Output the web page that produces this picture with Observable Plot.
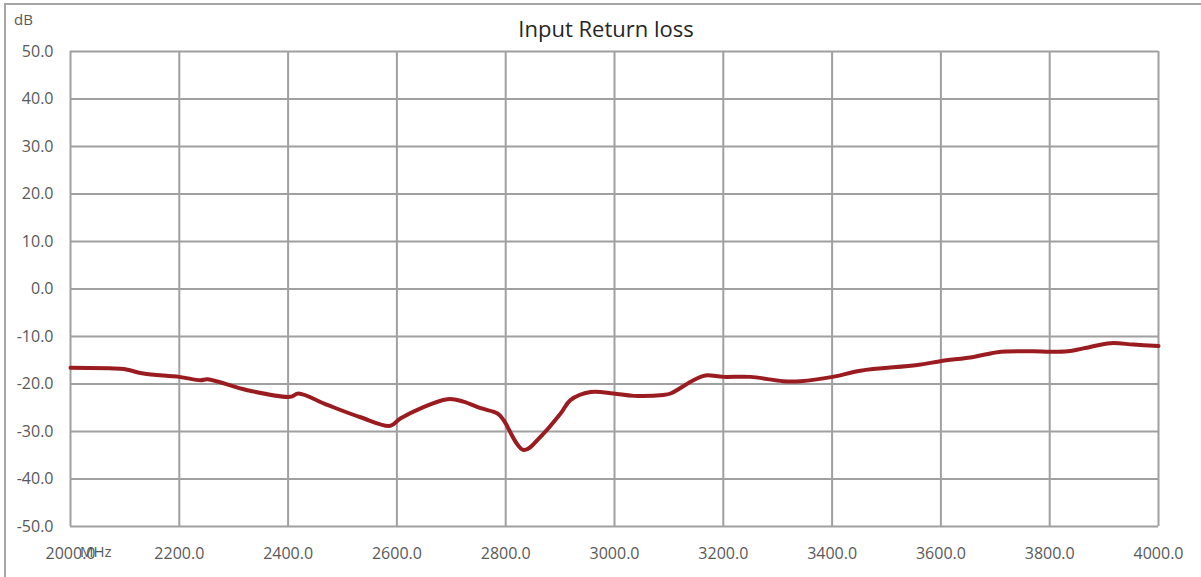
<!DOCTYPE html>
<html>
<head>
<meta charset="utf-8">
<script src="https://cdn.jsdelivr.net/npm/d3@7"></script>
<script src="https://cdn.jsdelivr.net/npm/@observablehq/plot@0.6"></script>
<style>
  html, body { margin: 0; padding: 0; background: #fff; }
  #wrap { position: relative; width: 1201px; height: 577px; overflow: hidden; font-family: "Open Sans", sans-serif; }
  #wrap svg { position: absolute; left: 0; top: 0; }
  .lbl { position: absolute; color: #595959; white-space: nowrap; }
  #title { left: 0; width: 1212px; top: 13px; text-align: center; font-size: 22px; color: #262626; }
  #unitY { left: 14px; top: 9px; font-size: 15px; }
  #unitX { left: 80px; top: 541px; font-size: 15px; }
  #border { position: absolute; left: 4px; top: 3px; width: 1220px; height: 600px; border-left: 2px solid #a6a6a6; border-top: 2px solid #a6a6a6; box-sizing: border-box; pointer-events: none; }
</style>
</head>
<body>
<div id="wrap">
  <div id="chart"></div>
  <div id="border"></div>
  <div class="lbl" id="title">Input Return loss</div>
  <div class="lbl" id="unitY">dB</div>
  <div class="lbl" id="unitX">MHz</div>
</div>
<script>
const freqMHz = [2000, 2092, 2105, 2134, 2200, 2239, 2252, 2325, 2404, 2419, 2472, 2533, 2588, 2607, 2693, 2722, 2754, 2785, 2796, 2833, 2864, 2901, 2919, 2956, 2998, 3035, 3090, 3103, 3145, 3167, 3200, 3250, 3310, 3342, 3401, 3452, 3557, 3599, 3660, 3704, 3770, 3799, 3833, 3862, 3912, 3954, 4000];
const returnLossDb = [-16.6, -16.8, -17.0, -17.8, -18.5, -19.2, -19.0, -21.3, -22.7, -22.0, -24.4, -27.0, -28.8, -27.2, -23.2, -23.7, -25.1, -26.2, -27.6, -33.9, -31.1, -26.2, -23.4, -21.7, -22.0, -22.5, -22.3, -22.0, -19.2, -18.2, -18.5, -18.5, -19.4, -19.4, -18.5, -17.2, -16.0, -15.2, -14.3, -13.3, -13.1, -13.2, -13.1, -12.5, -11.4, -11.7, -12.0];
const xTicks = [2000, 2200, 2400, 2600, 2800, 3000, 3200, 3400, 3600, 3800, 4000];
const yTicks = [-50, -40, -30, -20, -10, 0, 10, 20, 30, 40, 50];

const data = freqMHz.map((f, i) => ({f, db: returnLossDb[i]}));
const gridColor = "#a0a0a0";

const chart = Plot.plot({
  width: 1201,
  height: 577,
  marginLeft: 70,
  marginRight: 43,
  marginTop: 51,
  marginBottom: 51,
  style: {fontFamily: "'Open Sans', sans-serif", fontSize: "16px", color: "#595959", background: "#fff"},
  x: {domain: [2000, 4000], ticks: xTicks, tickFormat: d => d.toFixed(1), label: null},
  y: {domain: [-50, 50], ticks: yTicks, tickFormat: d => d.toFixed(1), label: null},
  marks: [
    Plot.gridX(xTicks, {stroke: gridColor, strokeOpacity: 1, strokeWidth: 2}),
    Plot.gridY(yTicks, {stroke: gridColor, strokeOpacity: 1, strokeWidth: 2}),
    Plot.axisX({ticks: xTicks, tickFormat: d => d.toFixed(1), tickSize: 0, tickPadding: 21, fontSize: 16, fill: "#595959"}),
    Plot.axisY({ticks: yTicks, tickFormat: d => d.toFixed(1), tickSize: 0, tickPadding: 17, fontSize: 16, fill: "#595959"}),
    Plot.line(data, {x: "f", y: "db", stroke: "#9b1c20", strokeWidth: 4, curve: "catmull-rom"})
  ]
});
document.getElementById("chart").appendChild(chart);
</script>
</body>
</html>
